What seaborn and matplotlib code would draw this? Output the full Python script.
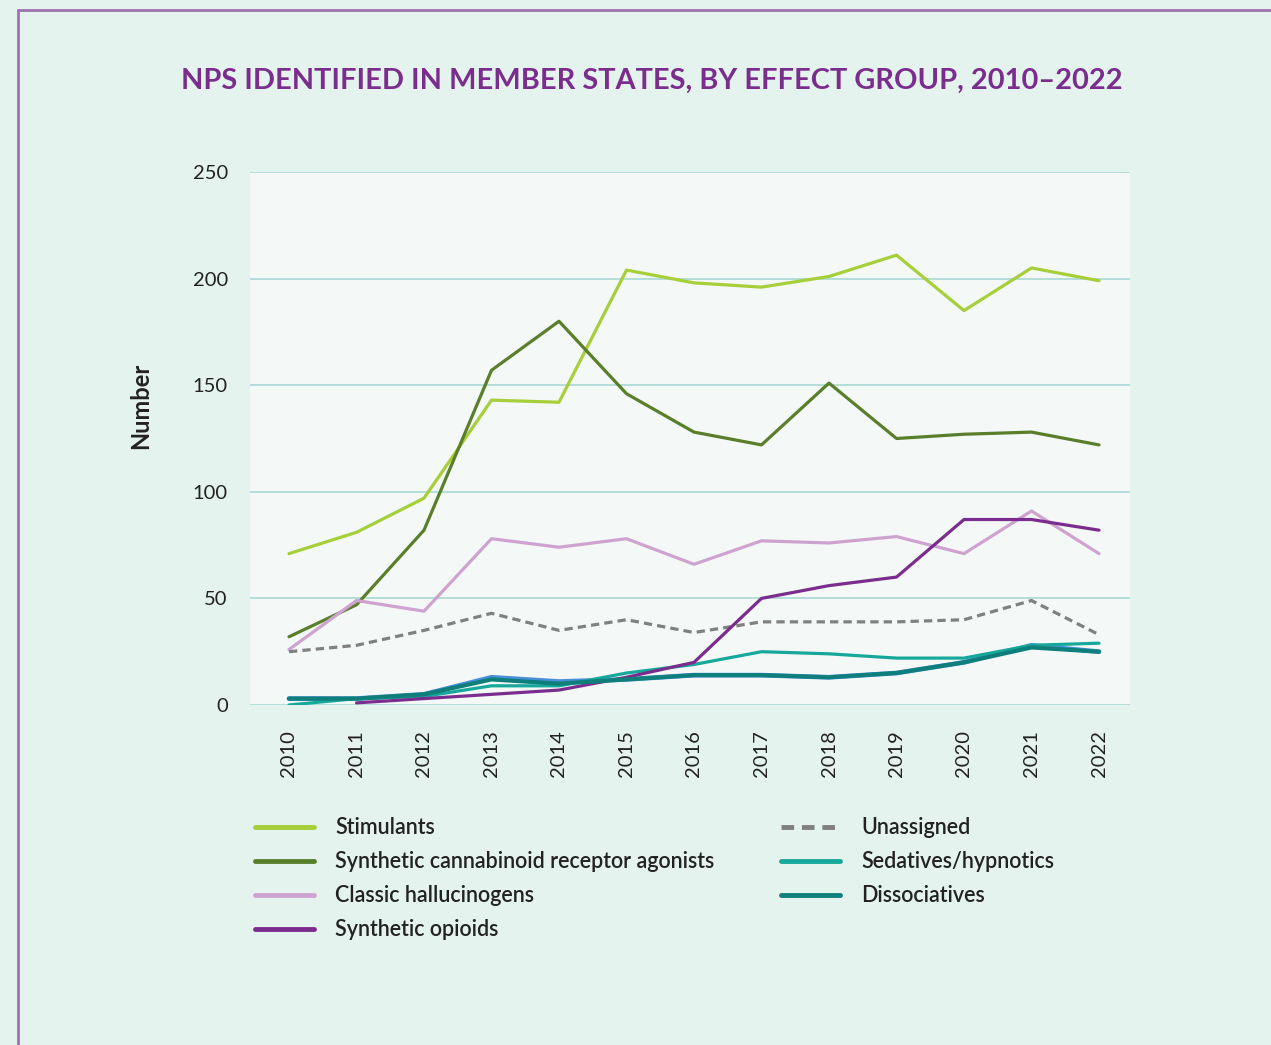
import matplotlib
matplotlib.use("Agg")
import matplotlib.pyplot as plt
from matplotlib.lines import Line2D
import seaborn as sns
import pandas as pd

years = list(range(2010, 2023))
stimulants = [71, 81, 97, 143, 142, 204, 198, 196, 201, 211, 185, 205, 199]
scra = [32, 47, 82, 157, 180, 146, 128, 122, 151, 125, 127, 128, 122]
hallucinogens = [26, 49, 44, 78, 74, 78, 66, 77, 76, 79, 71, 91, 71]
opioids = [None, 1, 3, 5, 7, 13, 20, 50, 56, 60, 87, 87, 82]
unassigned = [25, 28, 35, 43, 35, 40, 34, 39, 39, 39, 40, 49, 33]
sedatives = [0, 3, 4, 9, 9, 15, 19, 25, 24, 22, 22, 28, 29]
dissociatives = [3, 3, 5, 12, 10, 12, 14, 14, 13, 15, 20, 27, 25]
other_blue = [3, 3, 5, 13, 11, 12, 14, 14, 13, 15, 20, 28, 25]

labels = ["Stimulants", "Synthetic cannabinoid receptor agonists", "Classic hallucinogens",
          "Synthetic opioids", "Unassigned", "Sedatives/hypnotics", "Dissociatives"]
colors = ["#a6cf3a", "#5a7f2b", "#cfa3d0", "#7b2d8e", "#808080", "#17a89c", "#0e7f7a"]
series = [stimulants, scra, hallucinogens, opioids, unassigned, sedatives, dissociatives]

BG = "#e5f3ef"
PLOT_BG = "#f4f8f7"
GRID = "#a9d8d3"
TEXT = "#222222"
PURPLE = "#7b2d8e"
DASH = (0, (2.6, 1.6))

sns.set_theme(style="white")
plt.rcParams['font.family'] = ['Lato', 'DejaVu Sans']

fig = plt.figure(figsize=(12.71, 10.45), dpi=100)
fig.patch.set_facecolor(BG)
ax = fig.add_axes([250/1271, 1-705/1045, 880/1271, 533/1045])
ax.set_facecolor(PLOT_BG)

# hidden blue series under dissociatives
df_b = pd.DataFrame({"year": years, "value": other_blue})
sns.lineplot(data=df_b, x="year", y="value", ax=ax, color="#4a90d9", lw=3.4, zorder=2, legend=False)

order = [0, 1, 2, 4, 5, 3, 6]
for i in order:
    df = pd.DataFrame({"year": years, "value": series[i]}).dropna()
    ls = DASH if labels[i] == "Unassigned" else "-"
    lw = 3.0 if labels[i] == "Dissociatives" else 2.3
    sns.lineplot(data=df, x="year", y="value", ax=ax, color=colors[i], lw=lw,
                 linestyle=ls, zorder=3, legend=False)

ax.set_xlim(2010 - 39/67.5, 2022 + 31/67.5)
ax.set_ylim(0, 250)
ax.set_yticks([0, 50, 100, 150, 200, 250])
ax.set_xticks(years)
ax.set_xticklabels([str(y) for y in years], rotation=90, fontsize=14.5, color=TEXT)
ax.set_yticklabels(["0", "50", "100", "150", "200", "250"], fontsize=14.5, color=TEXT)
ax.tick_params(axis='y', length=0, pad=16)
ax.tick_params(axis='x', length=0, pad=18)
ax.grid(axis='y', color=GRID, lw=1.2)
ax.grid(axis='x', visible=False)
for s in ax.spines.values():
    s.set_visible(False)
ax.set_axisbelow(True)
ax.set_xlabel("")
ax.set_ylabel("")

fig.text(141/1271, 1-406/1045, "Number", rotation=90, ha="center", va="center",
         fontsize=17, fontweight="bold", color=TEXT)

fig.text(652/1271, 1-81/1045, "NPS IDENTIFIED IN MEMBER STATES, BY EFFECT GROUP, 2010\u20132022",
         ha="center", va="center", fontsize=20.9, fontweight="bold", color=PURPLE)

# borders
fig.add_artist(Line2D([18/1271, 18/1271], [0, 1-10/1045], color="#a070b0", lw=2, transform=fig.transFigure))
fig.add_artist(Line2D([18/1271, 1], [1-10/1045, 1-10/1045], color="#a070b0", lw=2, transform=fig.transFigure))

def handle(i):
    ls = DASH if labels[i] == "Unassigned" else "-"
    return Line2D([], [], color=colors[i], lw=3.5, linestyle=ls)

leg_kw = dict(frameon=False, handlelength=2.7, handletextpad=1.0,
              labelspacing=0.6, labelcolor=TEXT,
              prop=dict(family=['Lato', 'DejaVu Sans'], size=15.5, weight='semibold'))
l1 = fig.legend([handle(i) for i in range(4)], labels[:4], loc="upper left",
                bbox_to_anchor=(236/1271, 1-798/1045), **leg_kw)
l2 = fig.legend([handle(i) for i in range(4, 7)], labels[4:], loc="upper left",
                bbox_to_anchor=(762/1271, 1-798/1045), **leg_kw)

fig.savefig("out.png", dpi=100, facecolor=BG)
